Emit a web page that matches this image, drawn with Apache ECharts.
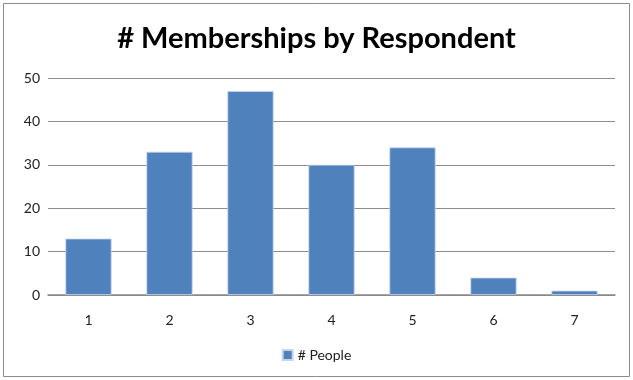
<!DOCTYPE html>
<html><head><meta charset="utf-8">
<script src="https://cdn.jsdelivr.net/npm/echarts@6/dist/echarts.min.js"></script>
<style>html,body{margin:0;padding:0;background:#fff}#c{width:633px;height:380px}</style>
</head><body><div id="c"></div>
<script>
const categories = ['1','2','3','4','5','6','7'];
const people = [13, 33, 47, 30, 34, 4, 1];
const seriesName = '# People';
const titleText = '# Memberships by Respondent';

const chart = echarts.init(document.getElementById('c'), null, {renderer:'canvas'});
chart.setOption({
  animation:false,
  backgroundColor:'#fff',
  graphic:[{type:'rect', shape:{x:3.5,y:3.5,width:626,height:373}, style:{fill:'none', stroke:'#8c8c8c', lineWidth:1}, silent:true}],
  title:{text:titleText, left:'center', top:19, textStyle:{fontFamily:'Lato', fontWeight:'bold', fontSize:29, color:'#000'}},
  legend:{bottom:13, left:'center', itemWidth:10, itemHeight:10, itemGap:4, icon:'rect',
    textStyle:{fontFamily:'Lato', fontSize:14, color:'#222'}},
  grid:{left:48, right:18, top:78, bottom:85, containLabel:false},
  xAxis:{type:'category', data:categories,
    axisLine:{lineStyle:{color:'#888', width:1.5}}, axisTick:{show:false},
    axisLabel:{fontFamily:'Lato', fontSize:14, color:'#222', margin:18}},
  yAxis:{type:'value', min:0, max:50, interval:10,
    axisLine:{show:false}, axisTick:{show:false},
    splitLine:{lineStyle:{color:'#8c8c8c', width:1.2}},
    axisLabel:{fontFamily:'Lato', fontSize:14, color:'#222', margin:8}},
  series:[{name:seriesName, type:'bar', data:people, barWidth:'57%',
    itemStyle:{color:'#4f81bd', borderColor:'#c6d6ea', borderWidth:0.8}}]
});
</script></body></html>
